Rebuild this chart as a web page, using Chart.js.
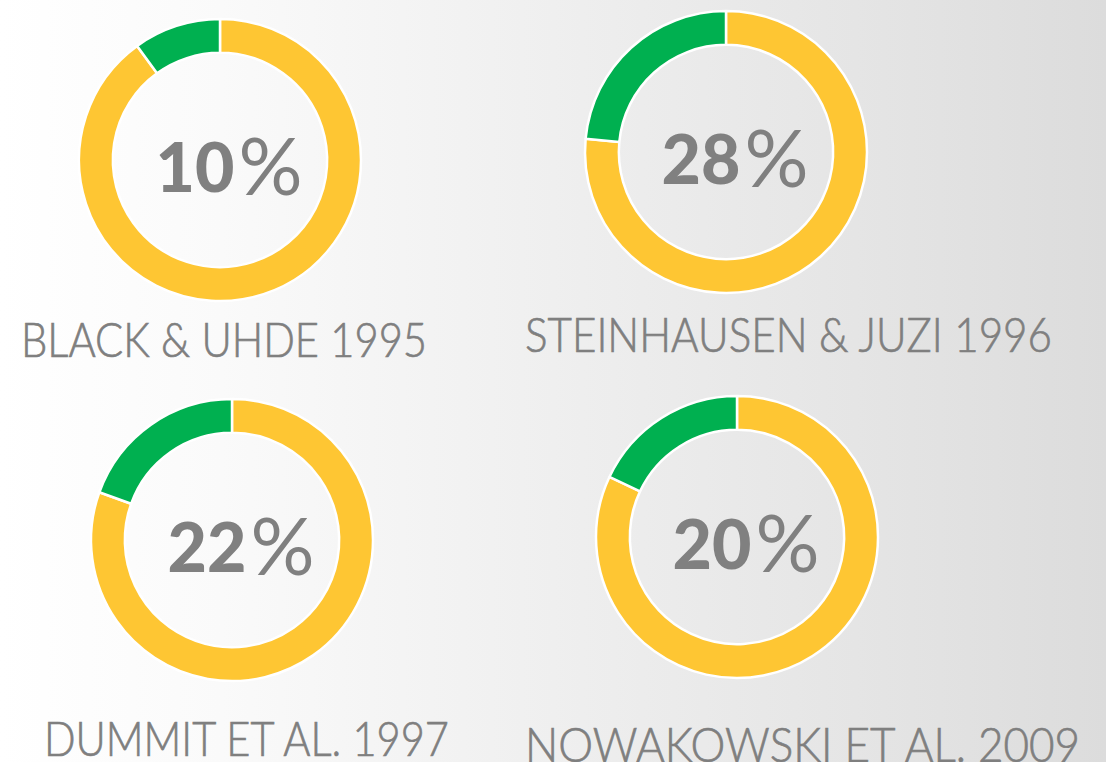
<!DOCTYPE html>
<html lang="en">
<head>
    <meta charset="UTF-8">
    <title>Study shares</title>
    <script src="https://cdn.jsdelivr.net/npm/chart.js"></script>
    <style>
        html, body {
            margin: 0;
            width: 1106px;
            height: 762px;
            overflow: hidden;
        }
        body {
            position: relative;
            background: linear-gradient(to right, #ffffff 0%, #fafafa 20%, #efefef 50%, #e4e4e4 80%, #dcdcdc 100%);
            font-family: Lato, "Open Sans", sans-serif;
        }
        .ring {
            position: absolute;
            width: 300px;
            height: 300px;
        }
        .label {
            position: absolute;
            font-size: 48px;
            font-weight: 300;
            -webkit-text-stroke: 0.7px #7f7f7f;
            line-height: 48px;
            color: #7f7f7f;
            white-space: nowrap;
            transform-origin: 0 0;
        }
    </style>
</head>
<body>
    <script>
        // data
        const studies = ['BLACK & UHDE 1995', 'STEINHAUSEN & JUZI 1996', 'DUMMIT ET AL. 1997', 'NOWAKOWSKI ET AL. 2009'];
        const shownPercent = ['10%', '28%', '22%', '20%'];   // printed in the middle
        const greenShare = [10, 23.5, 19.5, 18];             // share as actually drawn by the arcs

        // layout: ring centre, label left / cap top / width
        const centers = [[220, 160], [726, 152], [232, 540], [737, 537]];
        const labelPos = [[21, 323, 406], [525, 318, 527], [44, 722, 405], [525, 728, 555]];

        const YELLOW = '#fec633';
        const GREEN = '#00b050';

        const centerText = {
            id: 'centerText',
            afterDraw(chart) {
                const txt = chart.options.plugins.centerText.text;
                const ctx = chart.ctx;
                const arc = chart.getDatasetMeta(0).data[0];
                const digits = txt.replace('%', '');
                ctx.save();
                ctx.fillStyle = '#808080';
                ctx.textBaseline = 'alphabetic';
                ctx.font = '900 68px Lato';
                const wd = ctx.measureText(digits).width;
                ctx.font = '80px Lato';
                const wp = ctx.measureText('%').width;
                const x0 = arc.x + 9 - (wd + wp + 4) / 2;
                const y0 = arc.y + 8 + 24;
                ctx.font = '900 68px Lato';
                ctx.fillText(digits, x0, y0);
                ctx.font = '80px Lato';
                ctx.fillText('%', x0 + wd + 4, y0 + 3);
                ctx.restore();
            }
        };

        studies.forEach((name, i) => {
            const cv = document.createElement('canvas');
            cv.className = 'ring';
            cv.width = 300;
            cv.height = 300;
            cv.style.left = (centers[i][0] - 150) + 'px';
            cv.style.top = (centers[i][1] - 150) + 'px';
            document.body.appendChild(cv);

            new Chart(cv.getContext('2d'), {
                type: 'doughnut',
                data: {
                    labels: ['other', name],
                    datasets: [{
                        data: [100 - greenShare[i], greenShare[i]],
                        backgroundColor: [YELLOW, GREEN],
                        borderColor: '#ffffff',
                        borderWidth: 2.5
                    }]
                },
                options: {
                    responsive: false,
                    animation: false,
                    events: [],
                    radius: 141,
                    cutout: '76%',
                    plugins: {
                        legend: { display: false },
                        tooltip: { enabled: false },
                        centerText: { text: shownPercent[i] }
                    }
                },
                plugins: [centerText]
            });

            const lab = document.createElement('div');
            lab.className = 'label';
            lab.textContent = name;
            lab.style.left = labelPos[i][0] + 'px';
            lab.style.top = (labelPos[i][1] - 8) + 'px';
            document.body.appendChild(lab);
            const w = lab.getBoundingClientRect().width;
            lab.style.transform = 'scaleX(' + (labelPos[i][2] / w) + ')';
        });
    </script>
</body>
</html>
